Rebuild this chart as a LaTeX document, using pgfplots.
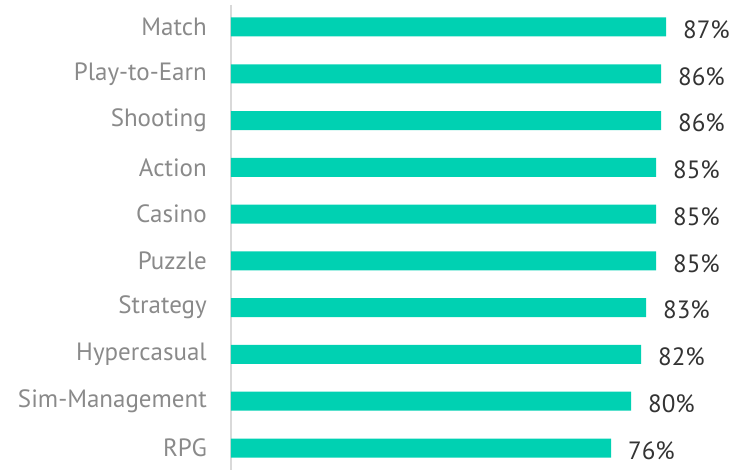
\documentclass[border=0pt]{standalone}
\usepackage{fontspec}
\setmainfont{PT Sans}
\usepackage{pgfplots}
\pgfplotsset{compat=1.18}
\definecolor{barteal}{HTML}{00D1B2}
\definecolor{labgray}{HTML}{8A8A8A}
\definecolor{valdark}{HTML}{333333}
\begin{document}
\begin{tikzpicture}
\useasboundingbox (-231pt,0pt) rectangle (511pt,470pt);
\begin{axis}[
  /pgf/number format/assume math mode=true,
  scale only axis,
  width=500pt, height=465pt,
  xbar, bar width=19pt,
  xmin=0, xmax=100,
  ymin=-0.47, ymax=9.47,
  y dir=reverse,
  axis x line=none,
  axis y line=left,
  y axis line style={-, draw=black!15, line width=1.5pt},
  ytick={0,...,9},
  yticklabels={Match,Play-to-Earn,Shooting,Action,Casino,Puzzle,Strategy,Hypercasual,Sim-Management,RPG},
  major tick length=0pt,
  yticklabel style={anchor=east, inner sep=0pt, xshift=-24pt, font=\fontsize{25}{28}\selectfont, text=labgray},
  clip=false,
  nodes near coords={\pgfmathprintnumber{\pgfplotspointmeta}\%},
  nodes near coords style={anchor=west, inner sep=0pt, xshift=17pt, yshift=-2.5pt, font=\fontsize{25}{28}\selectfont, text=valdark},
  point meta=x,
]
\addplot[fill=barteal, draw=none] coordinates {
(87,0) (86,1) (86,2) (85,3) (85,4) (85,5) (83,6) (82,7) (80,8) (76,9)};
\end{axis}
\end{tikzpicture}
\end{document}
